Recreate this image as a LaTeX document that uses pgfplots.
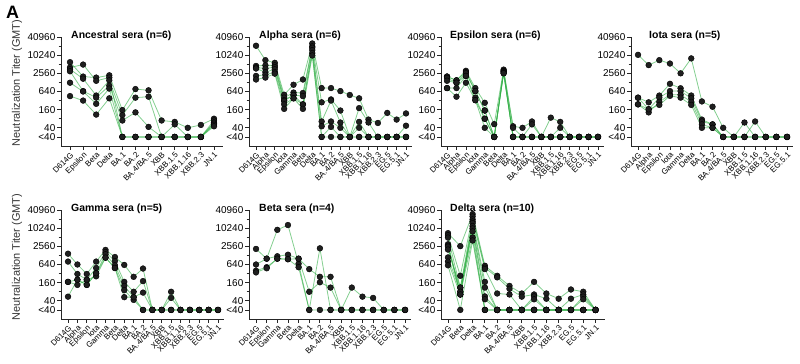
\documentclass[border=0pt]{standalone}
\usepackage{pgfplots}
\pgfplotsset{compat=1.18}
\usepackage{pgfplotstable}
\usepackage{fontspec}
\setmainfont{Liberation Sans}
\definecolor{lgreen}{RGB}{50,175,70}

\pgfplotsset{
    scale only axis, height=109bp,
    ymin=10, ymax=40960,
    ytick={20,40,160,640,2560,10240,40960},
    yticklabels={<40,40,160,640,2560,10240,40960},
    minor ytick={80,320,1280,5120,20480},
    axis x line*=bottom, axis y line*=left,
    axis line style={line width=0.9bp, black!85},
    tick align=outside,
    major tick length=4bp, minor tick length=2.5bp,
    tick style={line width=0.8bp, black!85},
    y tick label style={font=\fontsize{10}{12}\selectfont, inner sep=1.5bp},
    x tick label style={font=\fontsize{8}{9}\selectfont, rotate=45, anchor=north east, inner sep=1bp},
    clip=false,
}
\newcommand{\drawseries}[2]{%
  \pgfplotsinvokeforeach{1,...,#2}{\addplot[no markers, draw=lgreen, draw opacity=0.6, line width=0.8bp] table[x=x,y=s##1]{#1};}
  \pgfplotsinvokeforeach{1,...,#2}{\addplot[only marks, mark=*, mark size=2.9bp, mark options={fill=black!88, draw=black}] table[x=x,y=s##1]{#1};}
}

\pgfplotstableread{
x s1 s2 s3 s4 s5 s6
0 6000 4000 3500 3000 1250 450
1 2000 5000 1700 660 640 320
2 1850 1450 470 400 250 110
3 2200 1850 1500 1000 800 380
4 155 20 105 70 20 20
5 770 20 400 130 20 20
6 700 20 430 43 20 20
7 70 20 20 20 20 20
8 63 20 52 20 20 20
9 40 20 20 20 20 20
10 50 20 20 20 20 20
11 80 70 60 55 50 45
}\tabAnc

\pgfplotstableread{
x s1 s2 s3 s4 s5 s6
0 21000 4500 4000 3700 2100 1600
1 7000 4700 3700 2800 2300 1850
2 5700 4700 4100 3500 2800 2500
3 500 400 330 310 240 170
4 1070 590 490 490 380 380
5 1600 570 450 240 240 170
6 25000 20000 18000 15000 12000 10000
7 830 280 65 45 20 20
8 830 350 320 65 43 20
9 660 150 60 40 20 20
10 490 20 20 20 20 20
11 380 180 63 40 20 20
12 75 60 20 20 20 20
13 58 20 20 20 20 20
14 125 20 20 20 20 20
15 75 20 20 20 20 20
16 120 47 20 20 20 20
}\tabAlpha

\pgfplotstableread{
x s1 s2 s3 s4 s5 s6
0 2000 2000 1800 1450 830 830
1 1500 1500 1250 1250 830 430
2 3100 2800 2560 2100 2100 1250
3 830 660 660 400 330 330
4 270 150 150 80 80 40
5 53 20 20 20 20 20
6 3400 3100 3000 2800 2600 2560
7 45 40 20 20 20 20
8 40 20 20 20 20 20
9 65 52 20 20 20 20
10 20 20 20 20 20 20
11 87 20 20 20 20 20
12 63 40 20 20 20 20
13 20 20 20 20 20 20
14 20 20 20 20 20 20
15 20 20 20 20 20 20
16 20 20 20 20 20 20
}\tabEps

\pgfplotstableread{
x s1 s2 s3 s4 s5
0 10500 400 400 240 240
1 4800 280 165 130 165
2 7000 470 400 290 230
3 5400 1150 660 500 460
4 2560 820 660 500 400
5 8000 470 380 290 230
6 300 75 65 52 40
7 200 52 52 40 40
8 40 20 20 20 20
9 20 20 20 20 20
10 20 60 20 20 20
11 20 20 65 20 20
12 20 20 20 20 20
13 20 20 20 20 20
14 20 20 20 20 20
}\tabIota

\pgfplotstableread{
x s1 s2 s3 s4 s5
0 1460 800 170 170 55
1 640 310 200 135 200
2 310 200 135 200 135
3 800 490 330 260 330
4 1950 1650 1400 1080 1080
5 1130 830 600 490 490
6 620 170 125 90 53
7 250 80 53 43 53
8 470 180 75 20 20
9 20 20 20 20 20
10 20 20 20 20 20
11 80 50 20 20 20
12 20 20 20 20 20
13 20 20 20 20 20
14 20 20 20 20 20
15 20 20 20 20 20
16 20 20 20 20 20
}\tabGam

\pgfplotstableread{
x s1 s2 s3 s4
0 2100 640 400 350
1 1000 1000 520 480
2 9000 1200 1000 1000
3 13000 1350 960 960
4 680 1000 1000 520
5 20 450 80 20
6 2200 250 165 20
7 20 250 110 20
8 20 20 20 20
9 20 110 20 20
10 20 55 20 20
11 20 50 20 20
12 20 20 20 20
13 20 20 20 20
14 20 20 20 20
}\tabBeta

\pgfplotstableread{
x s1 s2 s3 s4 s5 s6 s7 s8 s9 s10
0 7000 6000 5000 3000 2700 2500 2000 1100 800 600
1 2600 270 110 80 65 65 110 80 65 20
2 30000 25000 20000 17000 15000 12000 10000 8000 5000 4000
3 580 500 450 170 110 56 45 20 20 20
4 270 240 70 20 20 20 20 20 20 20
5 125 100 65 20 20 20 20 20 20 20
6 70 55 20 20 20 20 20 20 20 20
7 170 65 56 45 20 20 20 20 20 20
8 70 47 20 20 20 20 20 20 20 20
9 47 20 20 20 20 20 20 20 20 20
10 95 47 20 20 20 20 20 20 20 20
11 80 65 55 45 20 20 20 20 20 20
12 20 20 20 20 20 20 20 20 20 20
}\tabDelta

\begin{document}
\begin{tikzpicture}
\useasboundingbox (0,0) rectangle (800bp,364bp);

% Ancestral
\begin{axis}[ymode=log, at={(61bp,218bp)}, anchor=south west, width=162bp,
  xmin=-0.69, xmax=11.69, xtick={0,...,11},
  xticklabels={D614G,Epsilon,Beta,Delta,BA.1,BA.2,BA.4/BA.5,XBB,XBB.1.5,XBB.1.16,XBB.2.3,JN.1}]
\drawseries{\tabAnc}{6}
\node[anchor=west, font=\bfseries\fontsize{10.5}{12}\selectfont, inner sep=0pt, yshift=1.5bp, xshift=10bp] at (rel axis cs:0,1) {Ancestral sera (n=6)};
\end{axis}

% Alpha
\begin{axis}[ymode=log, at={(249bp,218bp)}, anchor=south west, width=163bp,
  xmin=-0.75, xmax=16.64, xtick={0,...,16},
  xticklabels={D614G,Alpha,Epsilon,Iota,Gamma,Beta,Delta,BA.1,BA.2,BA.4/BA.5,XBB,XBB.1.5,XBB.1.16,XBB.2.3,EG.5,EG.5.1,JN.1}]
\drawseries{\tabAlpha}{6}
\node[anchor=west, font=\bfseries\fontsize{10.5}{12}\selectfont, inner sep=0pt, yshift=1.5bp, xshift=10bp] at (rel axis cs:0,1) {Alpha sera (n=6)};
\end{axis}

% Epsilon
\begin{axis}[ymode=log, at={(441bp,218bp)}, anchor=south west, width=163bp,
  xmin=-0.64, xmax=16.64, xtick={0,...,16},
  xticklabels={D614G,Alpha,Epsilon,Iota,Gamma,Beta,Delta,BA.1,BA.2,BA.4/BA.5,XBB,XBB.1.5,XBB.1.16,XBB.2.3,EG.5,EG.5.1,JN.1}]
\drawseries{\tabEps}{6}
\node[anchor=west, font=\bfseries\fontsize{10.5}{12}\selectfont, inner sep=0pt, yshift=1.5bp, xshift=9bp] at (rel axis cs:0,1) {Epsilon sera (n=6)};
\end{axis}

% Iota
\begin{axis}[ymode=log, at={(631bp,218bp)}, anchor=south west, width=162bp,
  xmin=-0.66, xmax=14.56, xtick={0,...,14},
  xticklabels={D614G,Alpha,Epsilon,Iota,Gamma,Delta,BA.1,BA.2,BA.4/BA.5,XBB,XBB.1.5,XBB.1.16,XBB.2.3,EG.5,EG.5.1}]
\drawseries{\tabIota}{5}
\node[anchor=west, font=\bfseries\fontsize{10.5}{12}\selectfont, inner sep=0pt, yshift=1.5bp, xshift=18bp] at (rel axis cs:0,1) {Iota sera (n=5)};
\end{axis}

% Gamma
\begin{axis}[ymode=log, at={(61bp,45bp)}, anchor=south west, width=163bp,
  xmin=-0.75, xmax=16.64, xtick={0,...,16},
  xticklabels={D614G,Alpha,Epsilon,Iota,Gamma,Beta,Delta,BA.1,BA.2,BA.4/BA.5,XBB,XBB.1.5,XBB.1.16,XBB.2.3,EG.5,EG.5.1,JN.1}]
\drawseries{\tabGam}{5}
\node[anchor=west, font=\bfseries\fontsize{10.5}{12}\selectfont, inner sep=0pt, yshift=1.5bp, xshift=10bp] at (rel axis cs:0,1) {Gamma sera (n=5)};
\end{axis}

% Beta
\begin{axis}[ymode=log, at={(249bp,45bp)}, anchor=south west, width=162bp,
  xmin=-0.66, xmax=14.56, xtick={0,...,14},
  xticklabels={D614G,Epsilon,Gamma,Beta,Delta,BA.1,BA.2,BA.4/BA.5,XBB,XBB.1.5,XBB.1.16,XBB.2.3,EG.5,EG.5.1,JN.1}]
\drawseries{\tabBeta}{4}
\node[anchor=west, font=\bfseries\fontsize{10.5}{12}\selectfont, inner sep=0pt, yshift=1.5bp, xshift=10bp] at (rel axis cs:0,1) {Beta sera (n=4)};
\end{axis}

% Delta
\begin{axis}[ymode=log, at={(441bp,45bp)}, anchor=south west, width=164bp,
  xmin=-0.57, xmax=12.77, xtick={0,...,12},
  xticklabels={D614G,Beta,Delta,BA.1,BA.2,BA.4/BA.5,XBB,XBB.1.5,XBB.1.16,XBB.2.3,EG.5,EG.5.1,JN.1}]
\drawseries{\tabDelta}{10}
\node[anchor=west, font=\bfseries\fontsize{10.5}{12}\selectfont, inner sep=0pt, yshift=1.5bp, xshift=9bp] at (rel axis cs:0,1) {Delta sera (n=10)};
\end{axis}

\node[rotate=90, font=\fontsize{11}{13}\selectfont, text=black!80] at (17bp,281bp) {Neutralization Titer (GMT)};
\node[rotate=90, font=\fontsize{11}{13}\selectfont, text=black!80] at (17bp,107bp) {Neutralization Titer (GMT)};
\node[anchor=north west, font=\bfseries\fontsize{18}{20}\selectfont, inner sep=0pt] at (6bp,358bp) {A};
\end{tikzpicture}
\end{document}
